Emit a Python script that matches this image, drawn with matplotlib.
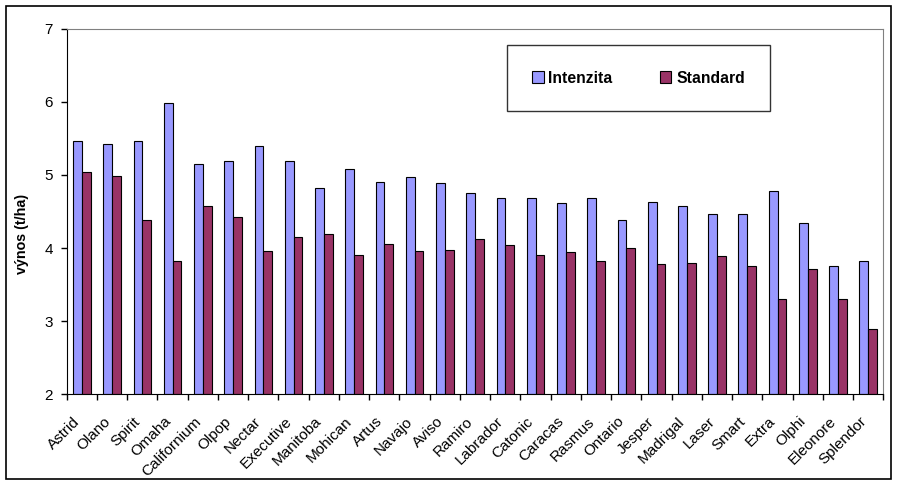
import numpy as np
import matplotlib
matplotlib.use("Agg")
import matplotlib.pyplot as plt
from matplotlib.patches import Rectangle
from matplotlib.transforms import ScaledTranslation

plt.rcParams['font.family'] = ['Liberation Sans', 'DejaVu Sans']

odrudy = ['Astrid', 'Olano', 'Spirit', 'Omaha', 'Californium', 'Olpop', 'Nectar',
          'Executive', 'Manitoba', 'Mohican', 'Artus', 'Navajo', 'Aviso', 'Ramiro',
          'Labrador', 'Catonic', 'Caracas', 'Rasmus', 'Ontario', 'Jesper', 'Madrigal',
          'Laser', 'Smart', 'Extra', 'Olphi', 'Eleonore', 'Splendor']
intenzita = [5.46, 5.43, 5.47, 5.98, 5.15, 5.19, 5.39, 5.19, 4.82, 5.08, 4.91, 4.97,
             4.89, 4.75, 4.69, 4.68, 4.61, 4.69, 4.39, 4.63, 4.57, 4.46, 4.46, 4.78,
             4.34, 3.75, 3.83]
standard = [5.04, 4.98, 4.38, 3.82, 4.57, 4.42, 3.96, 4.15, 4.19, 3.90, 4.05, 3.96,
            3.98, 4.12, 4.04, 3.90, 3.94, 3.82, 4.00, 3.78, 3.79, 3.89, 3.76, 3.31,
            3.71, 3.30, 2.89]

fig = plt.figure(figsize=(8.97, 4.84), dpi=100)
ax = fig.add_axes([0.0744, 0.1853, 0.9104, 0.7554])

x = np.arange(len(odrudy))
w = 0.29
ax.bar(x - w/2, np.array(intenzita) - 2, w, bottom=2, color='#9999FF',
       edgecolor='black', linewidth=0.8, label='Intenzita')
ax.bar(x + w/2, np.array(standard) - 2, w, bottom=2, color='#993366',
       edgecolor='black', linewidth=0.8, label='Standard')

ax.set_xlim(-0.5, len(odrudy) - 0.5)
ax.set_ylim(2, 7)
ax.set_yticks([2, 3, 4, 5, 6, 7])
ax.tick_params(axis='y', direction='out', length=4, width=1, pad=6, labelsize=11)

ax.set_xticks(x)
ax.set_xticklabels(odrudy, rotation=45, ha='right', va='center',
                   rotation_mode='anchor', fontsize=11)
ax.tick_params(axis='x', which='major', length=0, pad=18)
ax.set_xticks(np.arange(-0.5, len(odrudy)), minor=True)
ax.tick_params(axis='x', which='minor', direction='out', length=4, width=1)
# nudge the rotated labels a little left, as in the original
shift = ScaledTranslation(-3 / 72, 0, fig.dpi_scale_trans)
for lab in ax.get_xticklabels():
    lab.set_transform(lab.get_transform() + shift)

for s in ['top', 'right']:
    ax.spines[s].set_color('#808080')
for s in ['left', 'bottom']:
    ax.spines[s].set_color('black')

ax.set_ylabel('výnos (t/ha)', fontweight='bold', fontsize=10.3)
ax.yaxis.set_label_coords(-0.046, 0.44)

leg = ax.legend(loc='center', bbox_to_anchor=(0.70, 0.865), ncol=2,
                frameon=True, fancybox=False, borderpad=1.6,
                columnspacing=3.0, handlelength=0.75, handleheight=0.75,
                handletextpad=0.3, prop={'weight': 'bold', 'size': 11.3})
leg.get_frame().set_edgecolor('black')
leg.get_frame().set_linewidth(1)

fig.patches.append(Rectangle((0.0064, 0.0103), 0.987, 0.978, transform=fig.transFigure,
                             fill=False, edgecolor='black', linewidth=1.2))

fig.savefig('out.png', dpi=100)
